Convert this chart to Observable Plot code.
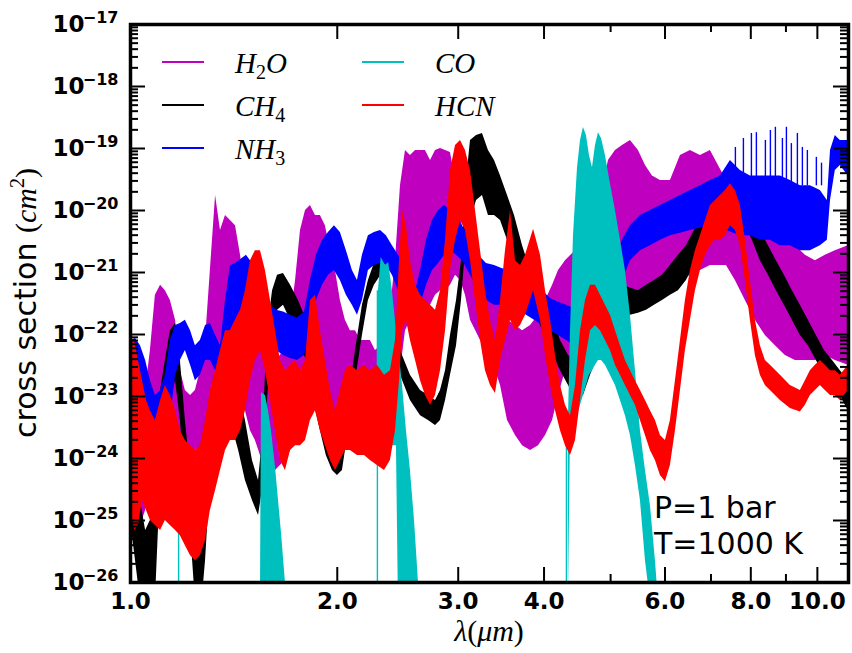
<!DOCTYPE html>
<html><head><meta charset="utf-8">
<script src="https://cdn.jsdelivr.net/npm/d3@7"></script>
<script src="https://cdn.jsdelivr.net/npm/@observablehq/plot@0.6"></script>
<style>
html,body{margin:0;padding:0;background:#fff;}
#chart svg{display:block;}
</style>
</head><body><div id="chart"></div>
<script>
// Each row: [wavelength (um), lower envelope, upper envelope] of cross section (cm^2)
const H2O = [
[1.000,1.75e-25,5.9e-24],[1.017,1.0e-25,4.9e-24],[1.034,8.3e-26,5.9e-24],[1.052,1.45e-25,1.25e-23],
[1.069,4.4e-25,5.5e-23],[1.087,1.95e-24,4.3e-22],[1.106,5.9e-24,6.2e-22],[1.124,7.2e-24,5.1e-22],
[1.143,4.1e-24,3.55e-22],[1.163,2.8e-24,1.7e-22],[1.182,1.35e-24,2.6e-23],[1.202,6.4e-25,1.25e-23],
[1.223,3.05e-25,1.04e-23],[1.243,3.7e-25,1.25e-23],[1.264,5.3e-25,2.6e-23],[1.286,9.3e-25,8.0e-23],
[1.307,2.8e-24,1.08e-21],[1.330,1.04e-23,1.75e-20],[1.352,1.8e-23,4.75e-21],[1.375,2.6e-23,8.3e-21],
[1.398,2.6e-23,6.9e-21],[1.422,2.2e-23,5.7e-21],[1.446,1.25e-23,1.9e-21],[1.470,5.9e-24,5.1e-22],
[1.495,2.8e-24,2.45e-22],[1.520,1.95e-24,1.15e-22],[1.546,1.12e-24,6.6e-23],[1.572,7.7e-25,4.6e-23],
[1.599,6.4e-25,4.6e-23],[1.626,6.4e-25,3.8e-23],[1.653,7.7e-25,4.6e-23],[1.681,9.3e-25,6.6e-23],
[1.710,1.35e-24,1.7e-22],[1.739,2.8e-24,7.4e-22],[1.768,8.6e-24,4.75e-21],[1.798,1.25e-23,1.0e-20],
[1.828,1.25e-23,1.2e-20],[1.859,1.04e-23,8.3e-21],[1.890,5.9e-24,8.3e-21],[1.922,4.1e-24,5.7e-21],
[1.955,2.8e-24,2.25e-21],[1.988,1.95e-24,1.08e-21],[2.021,1.95e-24,3.55e-22],[2.055,1.95e-24,1.7e-22],
[2.090,1.6e-24,1.15e-22],[2.126,1.6e-24,1.15e-22],[2.162,1.6e-24,8.0e-23],[2.198,1.35e-24,8.0e-23],
[2.235,1.35e-24,8.0e-23],[2.273,1.12e-24,5.5e-23],[2.312,1.12e-24,6.6e-23],[2.351,9.3e-25,8.0e-23],
[2.390,1.35e-24,2.45e-22],[2.431,2.8e-24,1.55e-21],[2.472,2.6e-23,2.5e-20],[2.514,1.15e-22,9.3e-20],
[2.556,1.7e-22,7.7e-20],[2.600,2.05e-22,9.3e-20],[2.644,2.05e-22,9.3e-20],[2.688,1.7e-22,9.3e-20],
[2.734,2.95e-22,6.4e-20],[2.780,4.3e-22,9.3e-20],[2.827,5.1e-22,1.0e-19],[2.875,5.1e-22,9.3e-20],
[2.923,6.2e-22,8.6e-20],[2.973,9.0e-22,3.05e-20],[3.023,7.4e-22,8.3e-21],[3.074,4.3e-22,2.7e-21],
[3.126,1.7e-22,1.55e-21],[3.233,8.0e-23,1.3e-21],[3.343,4.6e-23,7.4e-22],[3.457,1.5e-23,3.55e-22],
[3.539,4.1e-24,1.7e-22],[3.635,2.35e-24,1.4e-22],[3.722,1.6e-24,1.15e-22],[3.823,1.35e-24,1.4e-22],
[3.926,1.6e-24,2.05e-22],[4.020,2.35e-24,3.55e-22],[4.116,4.1e-24,6.2e-22],[4.199,1.04e-23,1.08e-21],
[4.298,2.6e-23,1.55e-21],[4.445,5.5e-23,2.25e-21],[4.596,6.6e-23,3.3e-21],[4.753,9.6e-23,5.7e-21],
[4.866,1.7e-22,2.1e-20],[4.964,2.45e-22,6.4e-20],[5.082,2.95e-22,9.3e-20],[5.203,2.95e-22,1.12e-19],
[5.344,3.55e-22,1.35e-19],[5.489,3.55e-22,9.3e-20],[5.620,3.55e-22,5.3e-20],[5.753,4.3e-22,3.6e-20],
[5.909,5.1e-22,3.05e-20],[6.110,6.2e-22,3.05e-20],[6.319,7.4e-22,7.7e-20],[6.534,9.0e-22,9.3e-20],
[6.757,1.08e-21,7.7e-20],[6.987,1.3e-21,9.3e-20],[7.177,1.3e-21,5.3e-20],[7.372,1.3e-21,3.05e-20],
[7.597,7.4e-22,1.45e-20],[7.856,3.55e-22,8.3e-21],[8.124,1.7e-22,5.7e-21],[8.401,9.6e-23,4.75e-21],
[8.687,6.6e-23,3.9e-21],[8.983,4.6e-23,3.3e-21],[9.289,3.8e-23,2.7e-21],[9.606,3.8e-23,1.9e-21],
[9.933,3.8e-23,1.55e-21],[10.27,4.6e-23,1.9e-21],[10.62,3.8e-23,2.25e-21],[11.09,3.2e-23,2.7e-21]
];
const CH4 = [
[1.000,1.0e-25,1.35e-24],[1.017,2.25e-26,6.4e-25],[1.034,5e-27,2.1e-25],[1.052,2.4e-27,6.9e-26],
[1.069,2.4e-27,1.0e-25],[1.087,5e-27,6.4e-25],[1.106,4.4e-25,1.25e-23],[1.124,2.8e-24,3.8e-23],
[1.143,8.6e-24,1.15e-22],[1.163,1.8e-23,1.5e-22],[1.182,4.1e-24,3.8e-23],[1.202,4.4e-25,4.1e-24],
[1.223,6.9e-26,6.4e-25],[1.243,5e-27,1.0e-25],[1.264,2.4e-27,4.75e-26],[1.286,2.25e-26,4.4e-25],
[1.307,4.4e-25,5.9e-24],[1.330,1.95e-24,1.8e-23],[1.352,5.9e-24,4.6e-23],[1.375,8.6e-24,6.6e-23],
[1.398,4.1e-24,3.8e-23],[1.437,1.35e-24,1.25e-23],[1.470,4.4e-25,4.1e-24],[1.505,2.1e-25,9.3e-25],
[1.536,1.2e-25,4.4e-25],[1.556,3.05e-25,1.95e-24],[1.583,8.6e-24,1.15e-22],[1.610,1.15e-22,5.1e-22],
[1.637,2.45e-22,9.0e-22],[1.670,2.95e-22,9.6e-22],[1.710,1.7e-22,6.2e-22],[1.756,8.0e-23,3.55e-22],
[1.804,3.8e-23,1.7e-22],[1.847,8.6e-24,3.8e-23],[1.890,2.8e-24,8.6e-24],[1.928,1.12e-24,2.8e-24],
[1.968,6.4e-25,1.35e-24],[2.001,5.3e-25,9.3e-25],[2.035,6.4e-25,1.95e-24],[2.076,2.8e-24,8.6e-24],
[2.126,1.8e-23,5.5e-23],[2.176,9.6e-23,2.95e-22],[2.220,3.55e-22,7.4e-22],[2.265,6.2e-22,1.4e-21],
[2.304,8.3e-22,1.9e-21],[2.351,3.55e-22,9.0e-22],[2.406,6.6e-23,1.7e-22],[2.472,2.2e-23,5.5e-23],
[2.556,8.6e-24,2.2e-23],[2.644,4.9e-24,1.25e-23],[2.715,4.1e-24,1.04e-23],[2.780,3.4e-24,8.6e-24],
[2.827,4.1e-24,1.25e-23],[2.875,8.6e-24,2.6e-23],[2.923,2.2e-23,9.6e-23],[2.983,6.6e-23,3.55e-22],
[3.033,3.55e-22,1.55e-21],[3.074,2.25e-21,2.1e-20],[3.126,6.9e-21,1.35e-19],[3.190,1.45e-20,1.62e-19],
[3.254,1.75e-20,1.75e-19],[3.320,8.3e-21,9.3e-20],[3.388,8.3e-21,6.4e-20],[3.457,6.9e-21,3.6e-20],
[3.539,3.3e-21,1.75e-20],[3.623,1.55e-21,8.3e-21],[3.722,7.4e-22,2.7e-21],[3.823,2.95e-22,1.08e-21],
[3.926,1.7e-22,5.1e-22],[4.033,8.0e-23,2.95e-22],[4.129,4.6e-23,1.7e-22],[4.227,2.6e-23,8.0e-23],
[4.342,1.5e-23,4.6e-23],[4.460,8.6e-24,3.8e-23],[4.566,1.04e-23,4.6e-23],[4.674,2.2e-23,8.0e-23],
[4.801,4.6e-23,1.7e-22],[4.931,8.0e-23,2.95e-22],[5.065,1.15e-22,4.3e-22],[5.203,1.7e-22,6.2e-22],
[5.344,2.05e-22,5.6e-22],[5.489,2.2e-22,5.1e-22],[5.639,2.45e-22,6.2e-22],[5.792,2.95e-22,7.4e-22],
[5.949,3.55e-22,9.0e-22],[6.110,4.3e-22,1.3e-21],[6.277,5.1e-22,1.9e-21],[6.447,7.4e-22,2.7e-21],
[6.622,1.3e-21,4.75e-21],[6.802,2.25e-21,1.0e-20],[6.987,4.75e-21,1.75e-20],[7.177,8.3e-21,3.05e-20],
[7.347,1.45e-20,4.2e-20],[7.521,1.45e-20,4.2e-20],[7.674,1.0e-20,2.5e-20],[7.856,5.7e-21,1.45e-20],
[8.042,3.3e-21,8.3e-21],[8.261,1.55e-21,4.75e-21],[8.486,9.0e-22,2.7e-21],[8.716,5.1e-22,1.55e-21],
[8.953,2.95e-22,9.0e-22],[9.196,1.7e-22,5.1e-22],[9.446,9.6e-23,2.95e-22],[9.703,6.6e-23,1.7e-22],
[9.966,3.8e-23,9.6e-23],[10.24,2.2e-23,5.5e-23],[10.52,1.5e-23,3.8e-23],[10.80,1.04e-23,2.6e-23],
[11.09,5.9e-24,1.8e-23]
];
const NH3 = [
[1.000,1.5e-23,8.0e-23],[1.017,1.25e-23,8.6e-23],[1.034,8.6e-24,6.6e-23],[1.052,4.1e-24,3.8e-23],
[1.069,1.95e-24,1.8e-23],[1.087,1.12e-24,1.04e-23],[1.106,9.3e-25,1.25e-23],[1.124,1.12e-24,2.2e-23],
[1.143,4.1e-24,8.0e-23],[1.163,2.2e-23,1.4e-22],[1.182,3.8e-23,1.5e-22],[1.202,5.5e-23,1.7e-22],
[1.223,3.2e-23,1.15e-22],[1.243,1.8e-23,6.6e-23],[1.264,2.2e-23,8.0e-23],[1.286,3.8e-23,1.4e-22],
[1.307,3.8e-23,1.5e-22],[1.330,2.6e-23,9.6e-23],[1.352,1.8e-23,6.6e-23],[1.375,3.8e-23,3.55e-22],
[1.398,1.15e-22,1.3e-21],[1.422,1.7e-22,1.4e-21],[1.446,2.45e-22,1.6e-21],[1.475,2.95e-22,1.9e-21],
[1.505,3.55e-22,1.4e-21],[1.536,1.7e-22,6.2e-22],[1.567,8.0e-23,3.55e-22],[1.599,6.6e-23,2.95e-22],
[1.631,5.5e-23,2.45e-22],[1.670,4.6e-23,2.3e-22],[1.710,4.1e-23,2.05e-22],[1.750,3.8e-23,1.85e-22],
[1.792,4.6e-23,2.3e-22],[1.828,9.6e-23,7.4e-22],[1.865,3.55e-22,1.9e-21],[1.903,6.2e-22,3.3e-21],
[1.942,9.0e-22,4.4e-21],[1.981,1.08e-21,5.7e-21],[2.021,7.4e-22,4.4e-21],[2.062,4.3e-22,2.25e-21],
[2.104,2.95e-22,1.08e-21],[2.140,2.05e-22,7.4e-22],[2.176,3.55e-22,1.9e-21],[2.220,1.08e-21,3.9e-21],
[2.265,1.3e-21,4.4e-21],[2.312,1.4e-21,4.75e-21],[2.358,1.3e-21,3.9e-21],[2.406,9.0e-22,2.7e-21],
[2.455,5.1e-22,1.9e-21],[2.505,3.55e-22,1.3e-21],[2.556,2.05e-22,6.2e-22],[2.600,1.7e-22,5.1e-22],
[2.644,2.95e-22,1.08e-21],[2.697,6.2e-22,3.3e-21],[2.752,1.08e-21,6.9e-21],[2.808,1.4e-21,1.0e-20],
[2.866,1.9e-21,1.2e-20],[2.923,2.25e-21,1.0e-20],[2.983,1.9e-21,8.3e-21],[3.043,1.55e-21,5.7e-21],
[3.126,9.0e-22,3.3e-21],[3.211,5.1e-22,1.9e-21],[3.298,3.55e-22,1.4e-21],[3.388,2.95e-22,1.3e-21],
[3.480,2.95e-22,1.15e-21],[3.575,2.95e-22,1.08e-21],[3.672,2.45e-22,1.0e-21],[3.772,2.05e-22,7.4e-22],
[3.874,1.7e-22,6.2e-22],[3.979,1.4e-22,5.1e-22],[4.088,1.15e-22,3.8e-22],[4.199,9.6e-23,3.3e-22],
[4.313,8.0e-23,2.95e-22],[4.430,6.6e-23,2.6e-22],[4.550,6.6e-23,2.45e-22],[4.674,6.6e-23,2.45e-22],
[4.801,8.0e-23,3.55e-22],[4.931,1.4e-22,6.2e-22],[5.065,2.95e-22,1.55e-21],[5.203,7.4e-22,3.3e-21],
[5.344,1.55e-21,5.7e-21],[5.526,2.25e-21,8.3e-21],[5.714,2.7e-21,1.0e-20],[5.909,3.3e-21,1.2e-20],
[6.110,3.9e-21,1.45e-20],[6.319,4.3e-21,1.75e-20],[6.534,4.75e-21,2.1e-20],[6.757,5.2e-21,2.5e-20],
[6.987,5.7e-21,3.05e-20],[7.225,5.2e-21,3.6e-20],[7.471,4.5e-21,6.4e-20],[7.726,3.9e-21,4.4e-20],
[7.989,3.9e-21,3.6e-20],[8.261,3.3e-21,3.6e-20],[8.543,3.3e-21,3.6e-20],[8.834,2.7e-21,3.6e-20],
[9.135,2.7e-21,3.05e-20],[9.446,2.25e-21,2.5e-20],[9.768,2.25e-21,2.5e-20],[10.10,2.7e-21,2.1e-20],
[10.34,3.3e-21,1.45e-20],[10.45,1.45e-20,9.3e-20],[10.62,4.4e-20,1.62e-19],[10.80,5.3e-20,1.35e-19],
[11.09,3.6e-20,1.35e-19]
];
// isolated NH3 line spikes in the 7.5-10 um region: [wavelength, base, top]
const NH3_SPIKES = [
[7.597,2.5e-20,1.04e-19],[7.804,2.5e-20,1.45e-19],[8.016,2.5e-20,1.75e-19],[8.151,2.5e-20,1.8e-19],
[8.401,2.5e-20,1.35e-19],[8.543,2.5e-20,1.95e-19],[8.687,2.5e-20,2.2e-19],[8.894,2.5e-20,1.45e-19],
[9.014,2.5e-20,2.2e-19],[9.165,2.5e-20,1.2e-19],[9.352,2.5e-20,1.75e-19],[9.510,2.5e-20,1.04e-19],
[9.670,2.5e-20,9.3e-20],[9.966,2.5e-20,7.2e-20],[10.14,2.5e-20,5.8e-20]
];
// CO bands (wavelength, lower, upper)
const CO_16 = [
[1.546,5e-27,5e-27],[1.551,5e-27,1.15e-23],[1.572,5e-27,1.04e-23],[1.588,5e-27,5.9e-24],
[1.604,5e-27,2.8e-24],[1.626,5e-27,7.2e-25],[1.659,5e-27,6.2e-26],[1.681,5e-27,1.0e-26],[1.692,5e-27,5e-27]
];
const CO_23 = [
[2.296,1.6e-24,5.1e-22],[2.317,1.6e-24,1.75e-21],[2.351,1.6e-24,1.3e-21],[2.376,1.6e-24,1.45e-21],
[2.406,1.6e-24,5.1e-22],[2.439,1.6e-24,1.15e-22],[2.455,5e-27,6.6e-23],[2.489,5e-27,1.5e-23],
[2.522,5e-27,2.8e-24],[2.556,5e-27,6.4e-25],[2.591,5e-27,1.0e-25],[2.626,5e-27,1.0e-26],[2.644,5e-27,5e-27]
];
const CO_46 = [
[4.341,5e-27,4.1e-24],[4.371,2.8e-24,1.15e-22],[4.415,3.4e-24,3.9e-21],[4.475,4.9e-24,4.9e-20],
[4.520,7.2e-24,1.35e-19],[4.565,1.04e-23,2.18e-19],[4.611,1.5e-23,1.62e-19],[4.658,2.2e-23,7.7e-20],
[4.705,2.6e-23,4.9e-20],[4.753,3.2e-23,1.12e-19],[4.801,3.8e-23,1.8e-19],[4.850,3.8e-23,1.45e-19],
[4.914,3.2e-23,7.7e-20],[4.997,2.2e-23,2.7e-20],[5.082,1.5e-23,1.0e-20],[5.168,8.6e-24,3.3e-21],
[5.255,4.9e-24,1.08e-21],[5.344,2.35e-24,2.05e-22],[5.434,7.7e-25,2.6e-23],[5.526,2.1e-25,2.8e-24],
[5.620,2.25e-26,6.4e-25],[5.714,5e-27,1.75e-25],[5.811,5e-27,2.25e-26],[5.870,5e-27,5e-27]
];
// thin CO lines reaching the bottom: [wavelength, top]
const CO_LINES = [[1.175,1.45e-25],[2.288,5.1e-22],[4.312,2.5e-24]];
const HCN = [
[1.000,1.45e-25,6.6e-23],[1.014,6.9e-26,8.0e-23],[1.027,8.3e-26,3.8e-23],[1.041,2.1e-25,1.8e-23],
[1.055,1.45e-25,8.6e-24],[1.069,1.0e-25,5.9e-24],[1.087,8.3e-26,4.1e-24],[1.106,6.9e-26,8.6e-24],
[1.124,1.0e-25,1.5e-23],[1.143,8.3e-26,1.04e-23],[1.163,6.9e-26,5.9e-24],[1.182,5.7e-26,2.8e-24],
[1.202,3.9e-26,1.95e-24],[1.223,2.7e-26,1.6e-24],[1.243,2.25e-26,1.35e-24],[1.264,2.7e-26,1.6e-24],
[1.286,4.75e-26,4.1e-24],[1.307,1.45e-25,1.25e-23],[1.330,3.05e-25,2.6e-23],[1.352,6.4e-25,5.5e-23],
[1.375,1.35e-24,1.15e-22],[1.398,1.95e-24,1.15e-22],[1.422,1.95e-24,1.7e-22],[1.446,2.8e-24,2.45e-22],
[1.470,5.9e-24,5.1e-22],[1.495,1.8e-23,1.55e-21],[1.520,3.8e-23,2.25e-21],[1.546,5.5e-23,2.25e-21],
[1.572,2.6e-23,1.08e-21],[1.599,8.6e-24,3.55e-22],[1.626,2.8e-24,1.15e-22],[1.653,9.3e-25,3.8e-23],
[1.681,6.4e-25,2.6e-23],[1.710,1.35e-24,3.2e-23],[1.739,1.6e-24,3.8e-23],[1.768,1.6e-24,2.6e-23],
[1.798,1.95e-24,3.8e-23],[1.828,4.1e-24,3.55e-22],[1.859,5.9e-24,4.3e-22],[1.890,2.8e-24,1.15e-22],
[1.922,1.6e-24,3.8e-23],[1.955,9.3e-25,1.25e-23],[1.988,6.4e-25,5.9e-24],[2.021,9.3e-25,1.25e-23],
[2.055,1.35e-24,2.6e-23],[2.090,1.35e-24,3.2e-23],[2.140,1.12e-24,2.6e-23],[2.191,1.12e-24,3.2e-23],
[2.235,9.3e-25,2.6e-23],[2.288,7.7e-25,3.2e-23],[2.343,6.4e-25,2.2e-23],[2.390,9.3e-25,2.6e-23],
[2.431,2.8e-24,8.0e-23],[2.464,1.8e-23,1.55e-21],[2.489,1.15e-22,1.0e-20],[2.522,1.7e-22,5.7e-21],
[2.556,8.0e-23,1.55e-21],[2.600,3.8e-23,6.2e-22],[2.644,1.8e-23,4.3e-22],[2.688,1.04e-23,3.55e-22],
[2.734,7.2e-24,2.95e-22],[2.780,1.04e-23,2.45e-22],[2.827,2.6e-23,5.1e-22],[2.875,1.15e-22,3.3e-21],
[2.923,1.08e-21,4.4e-20],[2.973,3.3e-21,1.12e-19],[3.023,6.9e-21,1.35e-19],[3.074,4.75e-21,9.3e-20],
[3.126,1.55e-21,4.4e-20],[3.179,3.55e-22,1.0e-20],[3.233,8.0e-23,2.25e-21],[3.287,2.6e-23,5.1e-22],
[3.343,1.5e-23,1.7e-22],[3.399,1.12e-23,8.0e-23],[3.457,3.8e-23,3.55e-22],[3.515,8.0e-23,2.25e-21],
[3.575,1.7e-22,1.0e-20],[3.635,1.15e-22,1.55e-21],[3.697,1.4e-22,1.3e-21],[3.759,2.05e-22,1.9e-21],
[3.862,5.1e-22,5.0e-21],[3.953,1.7e-22,1.9e-21],[4.020,4.6e-23,5.1e-22],[4.088,1.5e-23,1.7e-22],
[4.157,5.9e-24,4.6e-23],[4.227,2.8e-24,1.5e-23],[4.298,1.6e-24,7.2e-24],[4.371,1.12e-24,4.9e-24],
[4.445,1.95e-24,1.5e-23],[4.520,8.6e-24,1.15e-22],[4.596,3.8e-23,3.55e-22],[4.674,1.15e-22,6.2e-22],
[4.753,1.4e-22,6.2e-22],[4.833,1.15e-22,4.3e-22],[4.914,8.0e-23,2.95e-22],[4.997,5.5e-23,2.05e-22],
[5.082,3.2e-23,1.15e-22],[5.168,2.2e-23,6.6e-23],[5.255,1.5e-23,3.8e-23],[5.344,1.04e-23,2.6e-23],
[5.434,7.2e-24,1.8e-23],[5.526,4.1e-24,1.25e-23],[5.620,2.35e-24,8.6e-24],[5.714,1.35e-24,5.9e-24],
[5.811,9.3e-25,4.1e-24],[5.909,5.3e-25,2.35e-24],[6.009,4.2e-25,1.95e-24],[6.110,7.7e-25,4.1e-24],
[6.214,2.8e-24,1.8e-23],[6.319,1.25e-23,8.0e-23],[6.425,5.5e-23,3.55e-22],[6.534,1.7e-22,1.08e-21],
[6.644,5.1e-22,2.25e-21],[6.757,1.08e-21,3.9e-21],[6.871,1.9e-21,6.9e-21],[6.987,2.7e-21,1.2e-20],
[7.105,3.3e-21,1.45e-20],[7.225,3.3e-21,1.75e-20],[7.347,3.9e-21,2.1e-20],[7.471,5.7e-21,2.7e-20],
[7.597,4.75e-21,2.1e-20],[7.726,2.7e-21,1.2e-20],[7.856,7.4e-22,3.3e-21],[7.989,1.7e-22,7.4e-22],
[8.124,4.6e-23,1.7e-22],[8.261,2.2e-23,6.6e-23],[8.401,1.5e-23,3.8e-23],[8.543,1.25e-23,3.2e-23],
[8.834,8.6e-24,2.2e-23],[9.135,6.4e-24,1.5e-23],[9.446,5.6e-24,1.25e-23],[9.606,7.2e-24,1.8e-23],
[9.768,1.04e-23,2.6e-23],[9.933,1.25e-23,3.2e-23],[10.10,1.5e-23,3.8e-23],[10.27,1.25e-23,3.2e-23],
[10.45,1.04e-23,2.6e-23],[10.62,1.04e-23,2.6e-23],[10.80,8.6e-24,2.2e-23],[11.09,1.25e-23,3.2e-23]
];

// axis ticks
const X_MAJOR = [1, 2, 3, 4, 6, 8, 10];
const X_LABELS = ["1.0", "2.0", "3.0", "4.0", "6.0", "8.0", "10.0"];
const X_MINOR = [5, 7, 9];
const Y_MAJOR = [1e-17, 1e-18, 1e-19, 1e-20, 1e-21, 1e-22, 1e-23, 1e-24, 1e-25, 1e-26];
const Y_EXPONENTS = ["\u221217", "\u221218", "\u221219", "\u221220", "\u221221", "\u221222", "\u221223", "\u221224", "\u221225", "\u221226"];
const Y_MINOR_MANTISSAS = [2, 3, 4, 5, 6, 7, 8, 9];
const Y_MINOR = Y_MAJOR.slice(1).flatMap(v => Y_MINOR_MANTISSAS.map(m => m * v));

// series names and colours (legend)
const SERIES = [
  {name: ["H", "2", "O"], color: "#bf00bf"},
  {name: ["CH", "4", ""], color: "#000000"},
  {name: ["NH", "3", ""], color: "#0000ff"},
  {name: ["CO", "", ""], color: "#00bfbf"},
  {name: ["HCN", "", ""], color: "#ff0000"}
];
const NOTES = ["P=1 bar", "T=1000 K"];

const W = 852, H = 653;
const mL = 130, mR = 4, mT = 24, mB = 71;
const innerW = W - mL - mR, innerH = H - mT - mB;
const MAJ = 15, MIN = 8;
const X0 = 1, Y0 = 1e-26;

const band = (data, color) => Plot.areaY(data, {x: d => d[0], y1: d => d[1], y2: d => d[2], fill: color, clip: true, curve: "linear"});

const chart = Plot.plot({
  width: W, height: H,
  marginLeft: mL, marginRight: mR, marginTop: mT, marginBottom: mB,
  x: {type: "log", domain: [1, 11.1], axis: null},
  y: {type: "log", domain: [1e-26, 1e-17], axis: null},
  style: {fontFamily: "DejaVu Sans", background: "white", overflow: "visible"},
  marks: [
    band(H2O, SERIES[0].color),
    band(CH4, SERIES[1].color),
    band(NH3, SERIES[2].color),
    Plot.ruleX(NH3_SPIKES, {x: d => d[0], y1: d => d[1], y2: d => d[2], stroke: SERIES[2].color, strokeWidth: 1.4, clip: true}),
    band(CO_16, SERIES[3].color),
    band(CO_23, SERIES[3].color),
    band(CO_46, SERIES[3].color),
    Plot.ruleX(CO_LINES, {x: d => d[0], y1: 5e-27, y2: d => d[1], stroke: SERIES[3].color, strokeWidth: 1.4, clip: true}),
    band(HCN, SERIES[4].color),
    // ticks (inward) on all four sides
    Plot.ruleX(X_MAJOR, {x: d => d, insetTop: innerH - MAJ, stroke: "black", strokeWidth: 2}),
    Plot.ruleX(X_MAJOR, {x: d => d, insetBottom: innerH - MAJ, stroke: "black", strokeWidth: 2}),
    Plot.ruleX(X_MINOR, {x: d => d, insetTop: innerH - MIN, stroke: "black", strokeWidth: 2}),
    Plot.ruleX(X_MINOR, {x: d => d, insetBottom: innerH - MIN, stroke: "black", strokeWidth: 2}),
    Plot.ruleY(Y_MAJOR, {y: d => d, insetRight: innerW - MAJ, stroke: "black", strokeWidth: 2}),
    Plot.ruleY(Y_MAJOR, {y: d => d, insetLeft: innerW - MAJ, stroke: "black", strokeWidth: 2}),
    Plot.ruleY(Y_MINOR, {y: d => d, insetRight: innerW - MIN, stroke: "black", strokeWidth: 2}),
    Plot.ruleY(Y_MINOR, {y: d => d, insetLeft: innerW - MIN, stroke: "black", strokeWidth: 2}),
    Plot.frame({stroke: "black", strokeWidth: 3.5}),
    // tick labels
    Plot.text(X_MAJOR, {x: d => d, y: Y0, text: (d, i) => X_LABELS[i], dy: 19, fontSize: 23, fontWeight: "bold", fill: "black"}),
    Plot.text(Y_MAJOR, {x: X0, y: d => d, text: () => "10", textAnchor: "end", dx: -46, fontSize: 23, fontWeight: "bold", fill: "black"}),
    Plot.text(Y_MAJOR, {x: X0, y: d => d, text: (d, i) => Y_EXPONENTS[i], textAnchor: "end", dx: -12, dy: -7, fontSize: 16, fontWeight: "bold", fill: "black"})
  ]
});
document.getElementById("chart").appendChild(chart);

// decorations: axis titles, legend, annotation
const svg = d3.select(chart);
const serif = "Liberation Serif";

// y-axis title
const yt = svg.append("text")
  .attr("transform", `translate(36,${mT + innerH / 2}) rotate(-90)`)
  .attr("text-anchor", "middle").attr("font-size", 30).attr("fill", "black");
yt.append("tspan").attr("font-family", "DejaVu Sans").text("cross section ");
yt.append("tspan").attr("font-family", serif).text("(");
yt.append("tspan").attr("font-family", serif).attr("font-style", "italic").text("cm");
yt.append("tspan").attr("font-family", serif).attr("font-size", 20).attr("dy", -12).text("2");
yt.append("tspan").attr("font-family", serif).attr("dy", 12).text(")");

// x-axis title
const xt = svg.append("text")
  .attr("x", mL + innerW / 2).attr("y", 641)
  .attr("text-anchor", "middle").attr("font-size", 30).attr("font-family", serif).attr("fill", "black");
xt.append("tspan").attr("font-style", "italic").text("\u03bb");
xt.append("tspan").text("(");
xt.append("tspan").attr("font-style", "italic").text("\u03bcm");
xt.append("tspan").text(")");

// legend: two columns
const legPos = [[162, 62], [162, 105], [162, 148], [362, 62], [362, 105]];
SERIES.forEach((s, i) => {
  const [lx, ly] = legPos[i];
  svg.append("line").attr("x1", lx).attr("x2", lx + 42).attr("y1", ly).attr("y2", ly)
    .attr("stroke", s.color).attr("stroke-width", 2);
  const t = svg.append("text").attr("x", lx + 73).attr("y", ly + 11)
    .attr("text-anchor", "start")
    .attr("font-family", serif).attr("font-size", 29).attr("fill", "black");
  t.append("tspan").attr("font-style", "italic").text(s.name[0]);
  if (s.name[1]) {
    t.append("tspan").attr("font-size", 20).attr("dy", 6).text(s.name[1]);
    if (s.name[2]) t.append("tspan").attr("font-style", "italic").attr("dy", -6).text(s.name[2]);
  }
});

// annotation (two lines)
NOTES.forEach((n, i) => {
  svg.append("text").attr("x", 654).attr("y", 518 + 36 * i)
    .attr("text-anchor", "start")
    .attr("font-family", "DejaVu Sans").attr("font-size", 30).attr("fill", "black").text(n);
});
</script>
</body></html>
